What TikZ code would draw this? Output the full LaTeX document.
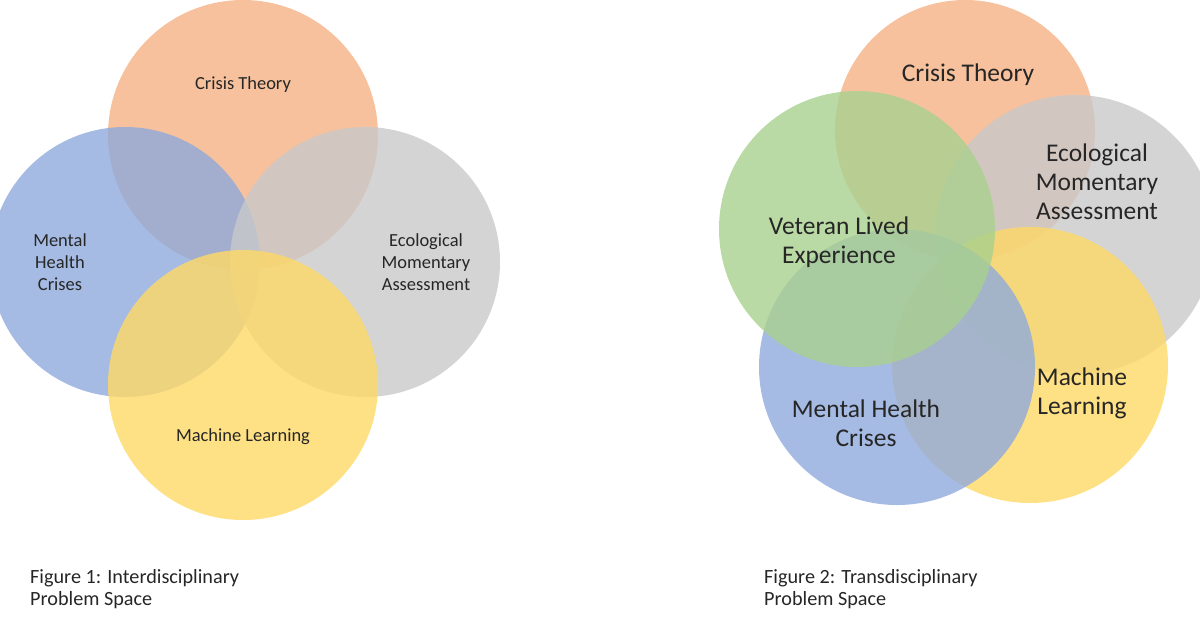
\documentclass[tikz,border=0pt]{standalone}
\usepackage{fontspec}
\setmainfont{Carlito}
\definecolor{crisisc}{HTML}{F4B183}
\definecolor{mentalc}{HTML}{8FAADC}
\definecolor{emac}{HTML}{C9C9C9}
\definecolor{mlc}{HTML}{FFD966}
\definecolor{vetc}{HTML}{A9D18E}
\tikzset{
  venn/.style={circle, minimum size=#1, inner sep=0pt, fill opacity=0.8, draw=none},
  lab/.style={align=center, font=\fontsize{10.5}{12.5}\selectfont, text=black!85},
  bigLab/.style={align=center, font=\fontsize{14.5}{16.5}\selectfont, text=black!85},
  capt/.style={align=left, anchor=north west, font=\fontsize{11.5}{12.5}\selectfont, text=black!85}
}
\begin{document}
\begin{tikzpicture}[x=0.02cm, y=-0.02cm]
  \useasboundingbox (0,0) rectangle (1200,630);
  % figure 1
  \node[venn=270*0.02cm, fill=crisisc] (crisis) at (243,135) {};
  \node[venn=270*0.02cm, fill=mentalc] (mental) at (125,262) {};
  \node[venn=270*0.02cm, fill=emac] (ema) at (365,262) {};
  \node[venn=270*0.02cm, fill=mlc] (ml) at (243,385) {};
  \node[lab] at (243,85) {Crisis Theory};
  \node[lab] at (60,262) {Mental\\Health\\Crises};
  \node[lab] at (426,262) {Ecological\\Momentary\\Assessment};
  \node[lab] at (243,437) {Machine Learning};
  \node[capt] (capA) at (24,563) {Figure 1: Interdisciplinary\\Problem Space};
  % figure 2
  \node[venn=260*0.02cm, fill=crisisc] (crisisB) at (965,130) {};
  \node[venn=280*0.02cm, fill=emac] (emaB) at (1075,235) {};
  \node[venn=276*0.02cm, fill=mlc] (mlB) at (1030,365) {};
  \node[venn=276*0.02cm, fill=mentalc] (mentalB) at (897,367) {};
  \node[venn=276*0.02cm, fill=vetc] (vetB) at (857,229) {};
  \node[bigLab] at (968,75) {Crisis Theory};
  \node[bigLab] at (1097,182) {Ecological\\Momentary\\Assessment};
  \node[bigLab] at (839,242) {Veteran Lived\\Experience};
  \node[bigLab] at (866,423) {Mental Health\\Crises};
  \node[bigLab] at (1082,393) {Machine\\Learning};
  \node[capt] (capB) at (758,563) {Figure 2: Transdisciplinary\\Problem Space};
\end{tikzpicture}
\end{document}
